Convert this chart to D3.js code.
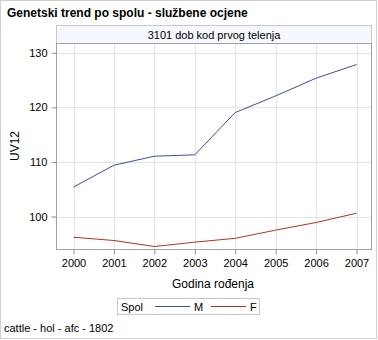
<!DOCTYPE html>
<html><head><meta charset="utf-8">
<script src="https://cdn.jsdelivr.net/npm/d3@7"></script>
<style>body{margin:0;background:#fff}svg{display:block;font-family:"Liberation Sans",Arial,sans-serif}</style>
</head><body><svg id="c" width="378" height="340"></svg>
<script>
const years = [2000, 2001, 2002, 2003, 2004, 2005, 2006, 2007];
const valuesM = [105.4, 109.4, 111.05, 111.3, 119.05, 122.1, 125.35, 127.85];
const valuesF = [96.2, 95.6, 94.5, 95.3, 96.0, 97.5, 98.9, 100.6];
const yTicks = [100, 110, 120, 130];
const seriesNames = ["M", "F"];
const seriesColors = ["#3c4fa0", "#b03428"];

const svg = d3.select("#c");
svg.append("rect").attr("x",0.5).attr("y",0.5).attr("width",376).attr("height",338)
  .attr("fill","#fff").attr("stroke","#d0d0d0");
svg.append("text").attr("x",7).attr("y",17).attr("font-size",12).attr("font-weight","bold")
  .text("Genetski trend po spolu - službene ocjene");

const L=56.5, R=371.5, T=43.5, B=249.5;
// header strip
svg.append("rect").attr("x",L).attr("y",25.5).attr("width",R-L).attr("height",T-25.5)
  .attr("fill","#f5f8ff").attr("stroke","#c8c8c8");
svg.append("text").attr("x",(L+R)/2).attr("y",38.5).attr("text-anchor","middle").attr("font-size",11)
  .text("3101 dob kod prvog telenja");

const x = d3.scaleLinear().domain([2000,2007]).range([73.5,356.5]);
const y = d3.scaleLinear().domain([100,130]).range([216.5,52.8]);

// grid
svg.append("g").selectAll("line").data(years).join("line")
  .attr("x1",d=>Math.round(x(d))+0.5).attr("x2",d=>Math.round(x(d))+0.5).attr("y1",T).attr("y2",B)
  .attr("stroke","#e4e4e4");
svg.append("g").selectAll("line").data(yTicks).join("line")
  .attr("y1",d=>Math.round(y(d))+0.5).attr("y2",d=>Math.round(y(d))+0.5).attr("x1",L).attr("x2",R)
  .attr("stroke","#e4e4e4");

// axes
const xa = svg.append("g").attr("transform",`translate(0,${B})`)
  .call(d3.axisBottom(x).tickValues(years).tickFormat(d3.format("d")).tickSize(5).tickPadding(5).tickSizeOuter(0));
const ya = svg.append("g").attr("transform",`translate(${L},0)`)
  .call(d3.axisLeft(y).tickValues(yTicks).tickSize(5).tickPadding(4).tickSizeOuter(0));
[xa,ya].forEach(a=>{
  a.select(".domain").remove();
  a.selectAll("line").attr("stroke","#909090");
  a.selectAll("text").attr("font-size",11).attr("fill","#000").attr("font-family","Liberation Sans, Arial, sans-serif");
});
svg.append("rect").attr("x",L).attr("y",T).attr("width",R-L).attr("height",B-T)
  .attr("fill","none").attr("stroke","#a0a0a0");

// lines
const line = d3.line().x((d,i)=>x(years[i])).y(d=>y(d));
[valuesM, valuesF].forEach((v,i)=>{
  svg.append("path").datum(v).attr("d",line).attr("fill","none")
    .attr("stroke",seriesColors[i]).attr("stroke-width",1);
});

// axis labels
svg.append("text").attr("x",213).attr("y",288).attr("text-anchor","middle").attr("font-size",12)
  .text("Godina rođenja");
svg.append("text").attr("transform","translate(19,146) rotate(-90)").attr("text-anchor","middle")
  .attr("font-size",12).text("UV12");

// legend
svg.append("rect").attr("x",117.5).attr("y",298.5).attr("width",142).attr("height",16)
  .attr("fill","#fff").attr("stroke","#c8c8c8");
svg.append("text").attr("x",121).attr("y",311).attr("font-size",11).text("Spol");
const lx = [155, 211];
seriesNames.forEach((n,i)=>{
  svg.append("line").attr("x1",lx[i]).attr("x2",lx[i]+35).attr("y1",306.5).attr("y2",306.5)
    .attr("stroke",seriesColors[i]);
  svg.append("text").attr("x",lx[i]+39).attr("y",311).attr("font-size",11).text(n);
});

svg.append("text").attr("x",4).attr("y",332).attr("font-size",11).text("cattle - hol - afc - 1802");
</script></body></html>
